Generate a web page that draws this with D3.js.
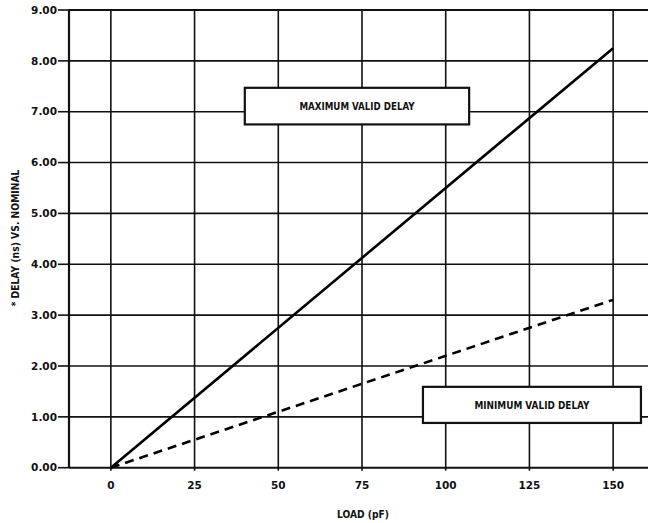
<!DOCTYPE html>
<html>
<head>
<meta charset="utf-8">
<script src="https://cdn.jsdelivr.net/npm/d3@7"></script>
<style>
  html, body { margin: 0; padding: 0; background: #fff; }
  svg { display: block; }
</style>
</head>
<body>
<svg id="chart" width="648" height="523"></svg>
<script>
// ---- data ----
const loadValues = [0, 150];                 // pF
const maxValidDelay = [0, 8.25];             // ns
const minValidDelay = [0, 3.30];             // ns
const xTickValues = [0, 25, 50, 75, 100, 125, 150];
const xTickLabels = ["0", "25", "50", "75", "100", "125", "150"];
const yTickValues = [0, 1, 2, 3, 4, 5, 6, 7, 8, 9];
const yTickLabels = ["0.00", "1.00", "2.00", "3.00", "4.00", "5.00", "6.00", "7.00", "8.00", "9.00"];
const xGrid = [-12.5, 0, 25, 50, 75, 100, 125, 150, 162.5];
const annotations = [
  { text: "MAXIMUM VALID DELAY", x0: 40, x1: 107, y0: 7.47, y1: 6.75 },
  { text: "MINIMUM VALID DELAY", x0: 93.2, x1: 158.3, y0: 1.59, y1: 0.88 }
];

const svg = d3.select("#chart");
const x = d3.scaleLinear().domain([-12.5, 162.5]).range([69, 655]);
const y = d3.scaleLinear().domain([0, 9]).range([467.7, 10]);

const g = svg.append("g");

// horizontal grid
g.selectAll(".hg").data(yTickValues).enter().append("line")
  .attr("x1", x(-12.5)).attr("x2", x(162.5))
  .attr("y1", d => y(d)).attr("y2", d => y(d))
  .attr("stroke", "#111").attr("stroke-width", d => (d === 9 || d === 0) ? 2 : 1.6);

// vertical grid
g.selectAll(".vg").data(xGrid).enter().append("line")
  .attr("x1", d => x(d)).attr("x2", d => x(d))
  .attr("y1", y(9)).attr("y2", d => d === -12.5 ? y(0) : y(0) + 3)
  .attr("stroke", "#111").attr("stroke-width", d => d === -12.5 ? 2.2 : 1.6);

// y ticks
g.selectAll(".yt").data(yTickValues).enter().append("line")
  .attr("x1", x(-12.5) - 11).attr("x2", x(-12.5))
  .attr("y1", d => y(d)).attr("y2", d => y(d))
  .attr("stroke", "#111").attr("stroke-width", 1.6);

g.selectAll(".yl").data(yTickValues).enter().append("text")
  .attr("x", x(-12.5) - 12).attr("y", d => y(d))
  .attr("dy", "0.35em").attr("text-anchor", "end")
  .attr("font-family", "DejaVu Sans, sans-serif")
  .attr("font-weight", "bold").attr("font-size", 10.5).attr("fill", "#111")
  .text((d, i) => yTickLabels[i]);

g.selectAll(".xl").data(xTickValues).enter().append("text")
  .attr("x", d => x(d)).attr("y", 489)
  .attr("text-anchor", "middle")
  .attr("font-family", "DejaVu Sans, sans-serif")
  .attr("font-weight", "bold").attr("font-size", 10.5).attr("fill", "#111")
  .text((d, i) => xTickLabels[i]);

// lines
const line = d3.line().x(d => x(d[0])).y(d => y(d[1]));
g.append("path")
  .datum(loadValues.map((v, i) => [v, maxValidDelay[i]]))
  .attr("d", line).attr("fill", "none").attr("stroke", "#000").attr("stroke-width", 2.6);
g.append("path")
  .datum(loadValues.map((v, i) => [v, minValidDelay[i]]))
  .attr("d", line).attr("fill", "none").attr("stroke", "#000").attr("stroke-width", 2.6)
  .attr("stroke-dasharray", "9,6");

// annotation boxes
const ann = g.selectAll(".ann").data(annotations).enter().append("g");
ann.append("rect")
  .attr("x", d => x(d.x0)).attr("y", d => y(d.y0))
  .attr("width", d => x(d.x1) - x(d.x0)).attr("height", d => y(d.y1) - y(d.y0))
  .attr("fill", "#fff").attr("stroke", "#111").attr("stroke-width", 2.2);
ann.append("text")
  .attr("x", d => (x(d.x0) + x(d.x1)) / 2).attr("y", d => (y(d.y0) + y(d.y1)) / 2)
  .attr("dy", "0.35em").attr("text-anchor", "middle")
  .attr("font-family", "DejaVu Sans Condensed, DejaVu Sans, sans-serif")
  .attr("font-weight", "bold").attr("font-size", 11).attr("fill", "#111")
  .attr("textLength", 115).attr("lengthAdjust", "spacingAndGlyphs")
  .text(d => d.text);

// axis titles
svg.append("text")
  .attr("x", 363).attr("y", 518).attr("text-anchor", "middle")
  .attr("font-family", "DejaVu Sans Condensed, DejaVu Sans, sans-serif")
  .attr("font-weight", "bold").attr("font-size", 11).attr("fill", "#111")
  .attr("textLength", 52).attr("lengthAdjust", "spacingAndGlyphs")
  .text("LOAD (pF)");

svg.append("text")
  .attr("transform", "translate(19,238) rotate(-90)")
  .attr("text-anchor", "middle")
  .attr("font-family", "DejaVu Sans Condensed, DejaVu Sans, sans-serif")
  .attr("font-weight", "bold").attr("font-size", 11).attr("fill", "#111")
  .attr("textLength", 137).attr("lengthAdjust", "spacingAndGlyphs")
  .text("* DELAY (ns) VS. NOMINAL");
</script>
</body>
</html>
